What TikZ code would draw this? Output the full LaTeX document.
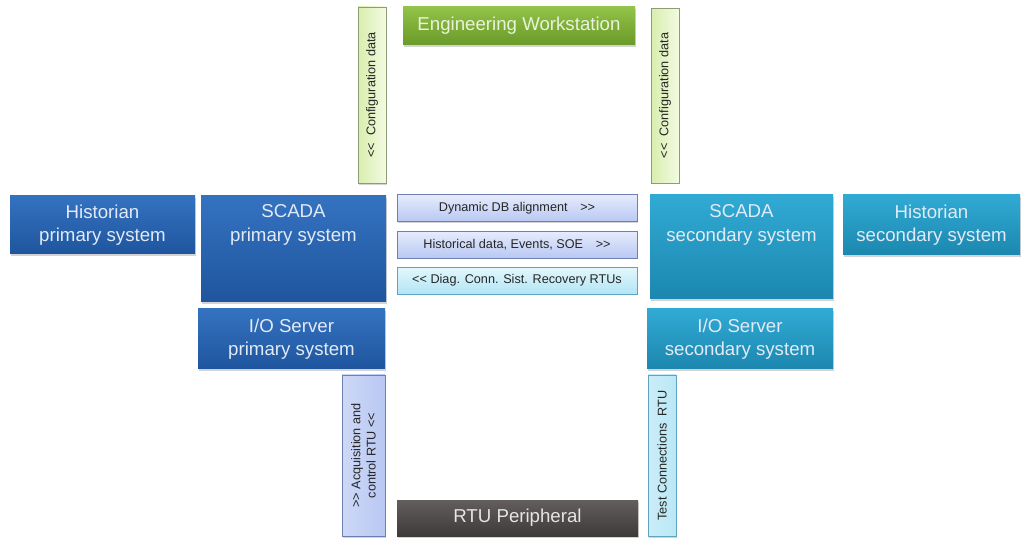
\documentclass[tikz,border=0pt]{standalone}
\usepackage{fontspec}
\setmainfont{Liberation Sans}[Ligatures=TeXOff]
\usetikzlibrary{shadows}
\definecolor{primtop}{HTML}{3472C0}
\definecolor{primbot}{HTML}{1F559E}
\definecolor{sectop}{HTML}{30AAD4}
\definecolor{secbot}{HTML}{1C87AF}
\definecolor{ewstop}{HTML}{92C247}
\definecolor{ewsbot}{HTML}{6A9A2A}
\definecolor{rtutop}{HTML}{625E5D}
\definecolor{rtubot}{HTML}{3E3A39}
\definecolor{boxtext}{HTML}{E2EAF6}
\definecolor{lavtop}{HTML}{E6ECFC}
\definecolor{lavbot}{HTML}{B9C8F3}
\definecolor{lavline}{HTML}{6E80B2}
\definecolor{cyantop}{HTML}{E2F7FC}
\definecolor{cyanbot}{HTML}{B3E5F5}
\definecolor{cyanline}{HTML}{5EA6C0}
\definecolor{cfgleft}{HTML}{D8EEAE}
\definecolor{cfgright}{HTML}{F3FAE2}
\definecolor{cfgline}{HTML}{8E9C76}
\tikzstyle{box}=[inner sep=0pt,outer sep=0pt,align=center,
  drop shadow={shadow xshift=1pt,shadow yshift=-1.2pt,opacity=.35}]
\tikzstyle{bigtext}=[font=\fontsize{14}{17.5}\selectfont,text=boxtext,align=center]
\tikzstyle{primary}=[box,bigtext,top color=primtop,bottom color=primbot]
\tikzstyle{secondary}=[box,bigtext,top color=sectop,bottom color=secbot]
\tikzstyle{tag}=[box,draw,font=\fontsize{9.5}{11.5}\selectfont,text=black!85]
\tikzstyle{lavtag}=[tag,draw=lavline,top color=lavtop,bottom color=lavbot]
\tikzstyle{cyantag}=[tag,draw=cyanline,top color=cyantop,bottom color=cyanbot]
\tikzstyle{cfgtag}=[tag,draw=cfgline,left color=cfgleft,right color=cfgright,rotate=90]

\begin{document}
\begin{tikzpicture}[x=0.75pt,y=-0.75pt]
  \useasboundingbox (0,0) rectangle (1022,538);
  % top: workstation and configuration links
  \node[box,bigtext,text=ewstop!20,top color=ewstop,bottom color=ewsbot,
    minimum width=174pt,minimum height=28.5pt] (ews) at (519,26) {Engineering Workstation};
  \node[cfgtag,minimum width=132pt,minimum height=21pt] (cfgp) at (372,95)
    {<<\ \ Configuration data};
  \node[cfgtag,minimum width=131pt,minimum height=21pt] (cfgs) at (665,95.5)
    {<<\ \ Configuration data};
  % primary system
  \node[primary,minimum width=138.75pt,minimum height=43.5pt] (histp) at (102.5,225)
    {Historian\\primary system};
  \node[primary,minimum width=138.75pt,minimum height=79.5pt] (scadap) at (293.5,249) {};
  \node[bigtext] (scadaptxt) at (293.5,225) {SCADA\\primary system};
  \node[primary,minimum width=140.25pt,minimum height=45pt] (iop) at (291.5,339)
    {I/O Server\\primary system};
  % secondary system
  \node[secondary,minimum width=137.25pt,minimum height=78pt] (scadas) at (741.5,247) {};
  \node[bigtext] (scadastxt) at (741.5,225) {SCADA\\secondary system};
  \node[secondary,minimum width=132.75pt,minimum height=45pt] (hists) at (931.5,225)
    {Historian\\secondary system};
  \node[secondary,minimum width=139.5pt,minimum height=45pt] (ios) at (740,339)
    {I/O Server\\secondary system};
  % data exchanged between the two systems
  \node[lavtag,minimum width=180pt,minimum height=20pt] (dyn) at (517,208)
    {Dynamic DB alignment\quad >>};
  \node[lavtag,minimum width=180pt,minimum height=20pt] (histd) at (517,244.5)
    {Historical data, Events, SOE\quad >>};
  \node[cyantag,minimum width=180pt,minimum height=20pt] (diag) at (517,280.5)
    {<< Diag. Conn. Sist. Recovery RTUs};
  % bottom: field side
  \node[lavtag,left color=lavbot!70,right color=lavbot,rotate=90,
    minimum width=120.75pt,minimum height=32.25pt] (acq) at (363.5,455.5)
    {>> Acquisition and\\control RTU <<};
  \node[cyantag,left color=cyanbot!70,right color=cyanbot!90,rotate=90,
    minimum width=120.75pt,minimum height=21pt] (tst) at (662,455.5)
    {Test\ Connections\ \ RTU};
  \node[box,bigtext,text=black!10,top color=rtutop,bottom color=rtubot,
    minimum width=180.75pt,minimum height=27pt] (rtu) at (517.5,518) {RTU Peripheral};
\end{tikzpicture}
\end{document}
